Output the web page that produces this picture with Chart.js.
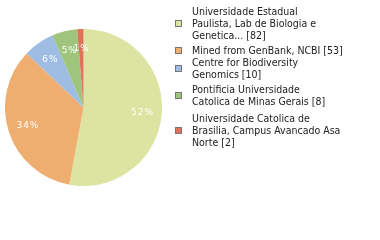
<!DOCTYPE html>
<html>
<head>
<meta charset="utf-8">
<script src="https://cdn.jsdelivr.net/npm/chart.js@4.4.1/dist/chart.umd.min.js"></script>
<style>
  html, body { margin: 0; padding: 0; background: #fff; }
  #wrap { position: relative; width: 380px; height: 240px; overflow: hidden; }
  #pieBox { position: absolute; left: 5px; top: 29px; width: 157px; height: 157px; }
  #legend { position: absolute; left: 0; top: 0; width: 380px; height: 240px; }
  .item { position: absolute; left: 175px; font-family: "DejaVu Sans Condensed", "DejaVu Sans", sans-serif; font-size: 10.5px; line-height: 11.8px; color: #222; }
  .item .box { position: absolute; left: 0; width: 5px; height: 5px; border: 1px solid #777; }
  .item .txt { position: absolute; left: 17px; white-space: nowrap; }
</style>
</head>
<body>
<div id="wrap">
  <div id="pieBox"><canvas id="pie"></canvas></div>
  <div id="legend"></div>
</div>
<script>
// Data
const labels = [
  ["Universidade Estadual", "Paulista, Lab de Biologia e", "Genetica... [82]"],
  ["Mined from GenBank, NCBI [53]"],
  ["Centre for Biodiversity", "Genomics [10]"],
  ["Pontificia Universidade", "Catolica de Minas Gerais [8]"],
  ["Universidade Catolica de", "Brasilia, Campus Avancado Asa", "Norte [2]"],
];
const counts = [82, 53, 10, 8, 2];
const colors = ["#dde3a0", "#efae70", "#9fbde2", "#9fc47b", "#e0725a"];

// Legend layout (top of first text line for each entry)
const legendTops = [6, 45, 57, 84, 113];

const legend = document.getElementById("legend");
labels.forEach((lines, i) => {
  const item = document.createElement("div");
  item.className = "item";
  item.style.top = legendTops[i] + "px";
  const box = document.createElement("div");
  box.className = "box";
  box.style.background = colors[i];
  // box sits on the vertical middle of the entry
  const h = lines.length * 11.8;
  box.style.top = Math.round(h / 2 - 3.5) + "px";
  const txt = document.createElement("div");
  txt.className = "txt";
  txt.innerHTML = lines.join("<br>");
  item.appendChild(box);
  item.appendChild(txt);
  legend.appendChild(item);
});

// Percentage labels inside slices
const pctLabels = {
  id: "pctLabels",
  afterDatasetsDraw(chart) {
    const ctx = chart.ctx;
    const total = counts.reduce((a, b) => a + b, 0);
    const meta = chart.getDatasetMeta(0);
    ctx.save();
    ctx.fillStyle = "#fff";
    ctx.font = "9px 'DejaVu Sans'";
    ctx.textAlign = "center";
    ctx.textBaseline = "middle";
    meta.data.forEach((arc, i) => {
      const mid = (arc.startAngle + arc.endAngle) / 2;
      const r = arc.outerRadius * 0.75;
      const x = arc.x + Math.cos(mid) * r;
      const y = arc.y + Math.sin(mid) * r;
      const pct = Math.floor((counts[i] / total) * 100) + "%";
      ctx.fillText(pct.split("").join(String.fromCharCode(8202)), x, y);
    });
    ctx.restore();
  },
};

new Chart(document.getElementById("pie"), {
  type: "pie",
  data: {
    labels: labels.map((l) => l.join(" ")),
    datasets: [
      {
        data: counts,
        backgroundColor: colors,
        borderWidth: 0,
      },
    ],
  },
  options: {
    responsive: true,
    maintainAspectRatio: false,
    animation: false,
    layout: { padding: 0 },
    plugins: {
      legend: { display: false },
      tooltip: { enabled: false },
    },
  },
  plugins: [pctLabels],
});
</script>
</body>
</html>
